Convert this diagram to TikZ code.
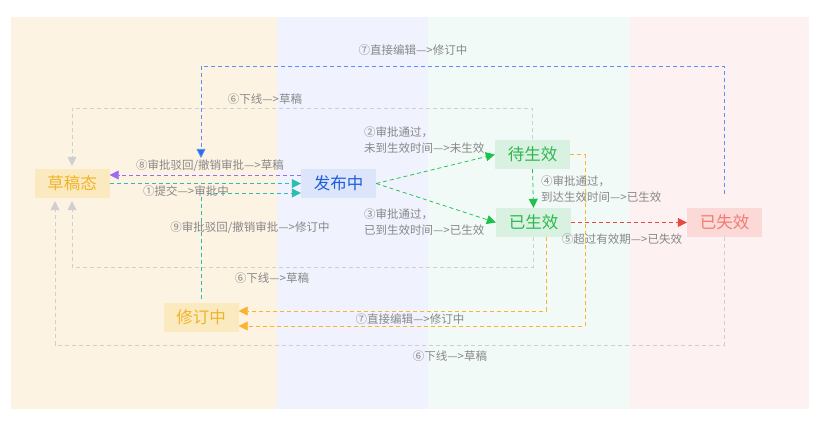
\documentclass[tikz,border=0pt]{standalone}
\usepackage{fontspec}
\setmainfont{Noto Sans CJK SC}
\usetikzlibrary{arrows.meta,calc}
\definecolor{bgO}{HTML}{FDF3E3}
\definecolor{bgB}{HTML}{F0F3FD}
\definecolor{bgG}{HTML}{F1FAF7}
\definecolor{bgR}{HTML}{FDF2F1}
\definecolor{fillO}{HTML}{FBEAC0}
\definecolor{txtO}{HTML}{F0B429}
\definecolor{fillB}{HTML}{DCE5F9}
\definecolor{txtB}{HTML}{1F5CE0}
\definecolor{fillG}{HTML}{D8F1E0}
\definecolor{txtG}{HTML}{2DB84F}
\definecolor{fillR}{HTML}{FAD9D7}
\definecolor{txtR}{HTML}{F47A73}
\definecolor{lblue}{HTML}{5B8FF9}
\definecolor{tblue}{HTML}{2F6BEA}
\definecolor{lgray}{HTML}{CFCFCF}
\definecolor{lpurple}{HTML}{9B6CF0}
\definecolor{lteal}{HTML}{2DBDB3}
\definecolor{lgreen}{HTML}{1DC24E}
\definecolor{lred}{HTML}{E8483F}
\definecolor{lorange}{HTML}{FBB330}
\definecolor{lbl}{HTML}{888888}
\begin{document}
\begin{tikzpicture}[x=1pt,y=-1pt,
  state/.style={rectangle,minimum width=75pt,minimum height=29pt,inner sep=0pt,font=\fontsize{16.5}{18}\selectfont},
  edge/.style={dash pattern=on 4pt off 3pt,line width=0.75pt,-{Triangle[length=9pt,width=9pt]}},
  lab/.style={text=lbl,inner sep=0pt,font=\fontsize{11.5}{16}\selectfont,align=left}]
\useasboundingbox (0,0) rectangle (826,422);
% background bands
\fill[bgO] (11,17) rectangle (277,409);
\fill[bgB] (277,17) rectangle (428,409);
\fill[bgG] (428,17) rectangle (630,409);
\fill[bgR] (630,17) rectangle (809,409);
% states
\node[state,fill=fillO,text=txtO] (cg) at (72,183.5) {草稿态};
\node[state,fill=fillB,text=txtB] (fb) at (338.5,183.5) {发布中};
\node[state,fill=fillG,text=txtG] (dz) at (532.5,154.5) {待生效};
\node[state,fill=fillG,text=txtG] (ys) at (533.5,222.5) {已生效};
\node[state,fill=fillR,text=txtR] (sx) at (724.5,222.5) {已失效};
\node[state,fill=fillO,text=txtO] (xd) at (201,317.5) {修订中};
\coordinate (b7) at (201,158);
% edges
\draw[edge,draw=lblue,-{Triangle[length=9pt,width=9pt,fill=tblue]}] (sx.north) ++(0,-14) |- (201,66) -- (b7);
\draw[edge,draw=lgray] (dz.north) ++(0,-1) |- (72,108) -- ([yshift=3pt]cg.north);
\draw[edge,draw=lpurple] ($(fb.west)+(0,-8.5)$) -- ($(cg.east)+(0,-8.5)$);
\draw[edge,draw=lteal] (cg.east) -- (fb.west);
\draw[edge,draw=lteal] (xd.north) ++(0,-4) |- ($(fb.west)+(0,9.5)$);
\draw[edge,draw=lgreen] (fb.east) -- (dz.west);
\draw[edge,draw=lgreen] (fb.east) -- (ys.west);
\draw[edge,draw=lgreen] (dz.south) -- (ys.north);
\draw[edge,draw=lred] (ys.east) -- (sx.west);
\draw[edge,draw=lgray] (ys.south) |- (72,267) -- ([yshift=-3pt]cg.south);
\draw[edge,draw=lgray] (sx.south) |- (55,345) -- ([yshift=-3pt,xshift=-17pt]cg.south);
\draw[edge,draw=lorange] ($(ys.south)+(12.5,0)$) |- ($(xd.east)+(0,-6.5)$);
\draw[edge,draw=lorange] (dz.east) -- (585,154.5) |- ($(xd.east)+(0,8.5)$);
% labels
\node[lab] at (413,50) {⑦直接编辑—>修订中};
\node[lab] at (265,99) {⑥下线—>草稿};
\node[lab] at (210,166) {⑧审批驳回/撤销审批—>草稿};
\node[lab] at (186,191) {①提交—>审批中};
\node[lab] at (250,228) {⑨审批驳回/撤销审批—>修订中};
\node[lab,anchor=west] at (364,140) {②审批通过，\\未到生效时间—>未生效};
\node[lab,anchor=west] at (364,222) {③审批通过，\\已到生效时间—>已生效};
\node[lab,anchor=west] at (541,189) {④审批通过，\\到达生效时间—>已生效};
\node[lab] at (622,239) {⑤超过有效期—>已失效};
\node[lab] at (272,278) {⑥下线—>草稿};
\node[lab] at (410,319) {⑦直接编辑—>修订中};
\node[lab] at (450,356) {⑥下线—>草稿};
\end{tikzpicture}
\end{document}
